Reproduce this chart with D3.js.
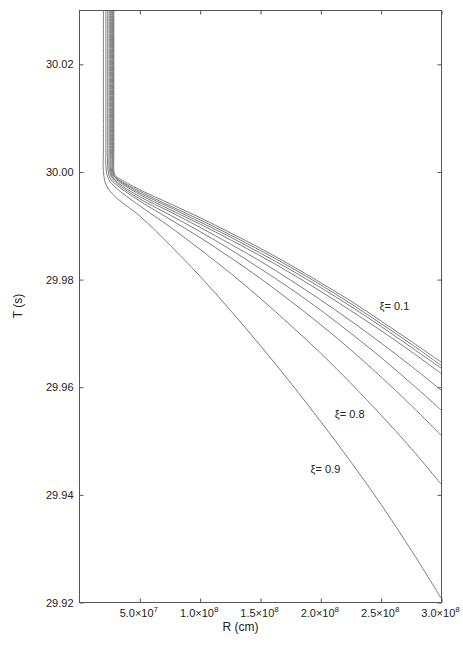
<!DOCTYPE html>
<html>
<head>
<meta charset="utf-8">
<script src="https://cdn.jsdelivr.net/npm/d3@7"></script>
<style>
body{margin:0;background:#fff}
svg text{font-family:"Liberation Sans",Arial,sans-serif;fill:#222}
</style>
</head>
<body>
<svg width="463" height="645"></svg>
<script>
// [R (cm), T (s)], one array per xi
var xi01=[[2.85e7,30.03],[2.85e7,30.0039],[2.85e7,30.0002],[2.94e7,29.9994],[3.21e7,29.9989],[5e7,29.9967],[7.5e7,29.9941],[1e8,29.9915],[1.25e8,29.9887],[1.5e8,29.9858],[1.75e8,29.9827],[2e8,29.9794],[2.25e8,29.9760],[2.5e8,29.9723],[2.75e8,29.9685],[3e8,29.9646]]
var xi02=[[2.79e7,30.03],[2.79e7,30.0039],[2.79e7,30.0003],[2.90e7,29.9993],[3.22e7,29.9986],[5e7,29.9964],[7.5e7,29.9937],[1e8,29.9911],[1.25e8,29.9883],[1.5e8,29.9854],[1.75e8,29.9823],[2e8,29.9790],[2.25e8,29.9755],[2.5e8,29.9718],[2.75e8,29.9680],[3e8,29.9640]]
var xi03=[[2.73e7,30.03],[2.73e7,30.0039],[2.73e7,30.0004],[2.85e7,29.9993],[3.22e7,29.9985],[5e7,29.9961],[7.5e7,29.9934],[1e8,29.9907],[1.25e8,29.9879],[1.5e8,29.9849],[1.75e8,29.9818],[2e8,29.9785],[2.25e8,29.9750],[2.5e8,29.9713],[2.75e8,29.9674],[3e8,29.9635]]
var xi04=[[2.64e7,30.03],[2.64e7,30.0039],[2.64e7,30.0005],[2.79e7,29.9992],[3.21e7,29.9983],[5e7,29.9958],[7.5e7,29.9930],[1e8,29.9903],[1.25e8,29.9874],[1.5e8,29.9844],[1.75e8,29.9812],[2e8,29.9778],[2.25e8,29.9742],[2.5e8,29.9705],[2.75e8,29.9666],[3e8,29.9625]]
var xi05=[[2.56e7,30.03],[2.56e7,30.0039],[2.56e7,30.0006],[2.72e7,29.9991],[3.19e7,29.9980],[5e7,29.9954],[7.5e7,29.9926],[1e8,29.9897],[1.25e8,29.9866],[1.5e8,29.9834],[1.75e8,29.9799],[2e8,29.9762],[2.25e8,29.9723],[2.5e8,29.9682],[2.75e8,29.9639],[3e8,29.9594]]
var xi06=[[2.46e7,30.03],[2.46e7,30.0039],[2.46e7,30.0007],[2.64e7,29.9991],[3.15e7,29.9978],[5e7,29.9950],[7.5e7,29.9920],[1e8,29.9889],[1.25e8,29.9856],[1.5e8,29.9820],[1.75e8,29.9783],[2e8,29.9743],[2.25e8,29.9700],[2.5e8,29.9655],[2.75e8,29.9607],[3e8,29.9557]]
var xi07=[[2.34e7,30.03],[2.34e7,30.0039],[2.34e7,30.0009],[2.53e7,29.9989],[3.12e7,29.9975],[5e7,29.9946],[7.5e7,29.9912],[1e8,29.9878],[1.25e8,29.9841],[1.5e8,29.9802],[1.75e8,29.9760],[2e8,29.9716],[2.25e8,29.9669],[2.5e8,29.9619],[2.75e8,29.9566],[3e8,29.9510]]
var xi08=[[2.19e7,30.03],[2.19e7,30.0039],[2.19e7,30.0009],[2.40e7,29.9987],[3.05e7,29.9970],[5e7,29.9937],[7.5e7,29.9898],[1e8,29.9856],[1.25e8,29.9812],[1.5e8,29.9765],[1.75e8,29.9715],[2e8,29.9663],[2.25e8,29.9607],[2.5e8,29.9548],[2.75e8,29.9486],[3e8,29.9419]]
var xi09=[[1.98e7,30.03],[1.98e7,30.0039],[1.98e7,30.0001],[2.24e7,29.9974],[3.02e7,29.9953],[5e7,29.9918],[7.5e7,29.9864],[1e8,29.9806],[1.25e8,29.9743],[1.5e8,29.9677],[1.75e8,29.9608],[2e8,29.9536],[2.25e8,29.9461],[2.5e8,29.9382],[2.75e8,29.9297],[3e8,29.9207]]
var curves=[xi01,xi02,xi03,xi04,xi05,xi06,xi07,xi08,xi09]

var xTicks=[5e7,1e8,1.5e8,2e8,2.5e8,3e8]
var xTickMant=["5.0","1.0","1.5","2.0","2.5","3.0"]
var xTickExp=["7","8","8","8","8","8"]
var yTicks=[29.92,29.94,29.96,29.98,30.00,30.02]

var labelText=["\u03be= 0.1","\u03be= 0.8","\u03be= 0.9"]
var labelR=[2.487e8,2.116e8,1.915e8]
var labelT=[29.9744,29.9543,29.9441]

var screen={width:463,height:645}
var margins={top:10,bottom:42,left:79,right:21}
var boxWidth=screen.width-margins.left-margins.right
var boxHeight=screen.height-margins.top-margins.bottom

var svg=d3.select("svg")
var plot=svg.append("g")
            .attr("transform","translate("+(margins.left+0.5)+","+(margins.top+0.5)+")")

var xScale=d3.scaleLinear().domain([0,3e8]).range([0,boxWidth-1])
var yScale=d3.scaleLinear().domain([29.92,30.03]).range([boxHeight-1,0])

plot.append("clipPath").attr("id","box")
    .append("rect").attr("width",boxWidth-1).attr("height",boxHeight-1)

var line=d3.line()
           .x(function(d){return xScale(d[0])})
           .y(function(d){return yScale(d[1])})
           .curve(d3.curveCatmullRom.alpha(0.5))

plot.append("g").attr("clip-path","url(#box)")
    .selectAll("path")
    .data(curves)
    .enter()
    .append("path")
    .attr("d",line)
    .attr("fill","none")
    .attr("stroke","#6e6e6e")
    .attr("stroke-width",0.9)

var styleAxis=function(g)
{
  g.select(".domain").remove()
  g.selectAll(".tick line").attr("stroke","#555")
  g.selectAll(".tick text").attr("font-size",11).attr("fill","#222")
    .attr("font-family","Liberation Sans, Arial, sans-serif")
}

plot.append("g")
    .call(d3.axisLeft(yScale).tickValues(yTicks).tickSizeInner(-4).tickSizeOuter(0)
          .tickPadding(6).tickFormat(d3.format(".2f")))
    .call(styleAxis)
plot.append("g").attr("transform","translate("+(boxWidth-1)+",0)")
    .call(d3.axisRight(yScale).tickValues(yTicks).tickSizeInner(-4).tickSizeOuter(0).tickFormat(""))
    .call(styleAxis)
plot.append("g")
    .call(d3.axisTop(xScale).tickValues(xTicks).tickSizeInner(-4).tickSizeOuter(0).tickFormat(""))
    .call(styleAxis)
var bottom=plot.append("g").attr("transform","translate(0,"+(boxHeight-1)+")")
    .call(d3.axisBottom(xScale).tickValues(xTicks).tickSizeInner(-4).tickSizeOuter(0).tickFormat(""))
    .call(styleAxis)

var tl=bottom.selectAll(".tick").append("text")
    .attr("x",-1.5).attr("y",14)
    .attr("text-anchor","middle")
    .attr("font-size",11)
tl.append("tspan").text(function(d,i){return xTickMant[i]+"\u00d710"})
tl.append("tspan").attr("dy",-4.5).attr("font-size",8)
  .text(function(d,i){return xTickExp[i]})

plot.append("rect")
    .attr("width",boxWidth-1).attr("height",boxHeight-1)
    .attr("fill","none").attr("stroke","#555").attr("stroke-width",1)

plot.selectAll(".xilabel")
    .data(labelText)
    .enter()
    .append("text")
    .attr("class","xilabel")
    .attr("x",function(d,i){return xScale(labelR[i])})
    .attr("y",function(d,i){return yScale(labelT[i])})
    .attr("font-size",11)
    .text(function(d){return d})

svg.append("text")
   .attr("x",margins.left+boxWidth/2-20)
   .attr("y",631)
   .attr("text-anchor","middle")
   .attr("font-size",12)
   .text("R (cm)")

svg.append("text")
   .attr("transform","translate(22,306) rotate(-90)")
   .attr("text-anchor","middle")
   .attr("font-size",12)
   .text("T (s)")
</script>
</body>
</html>
